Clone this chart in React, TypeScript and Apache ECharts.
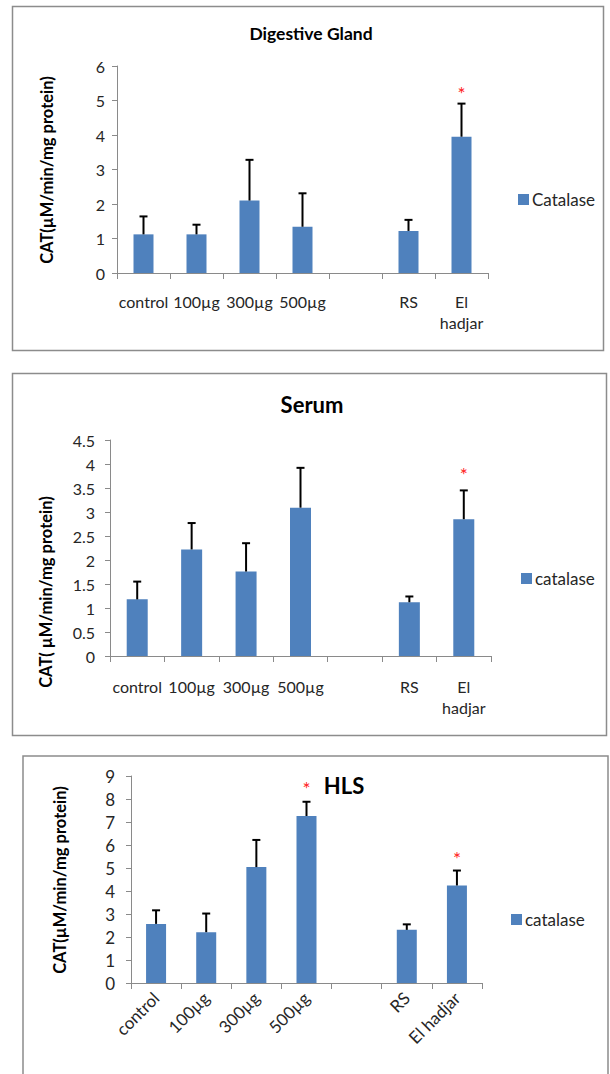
import React, { useEffect, useRef } from "react";
import * as echarts from "echarts";

const CATEGORIES = ["control", "100µg", "300µg", "500µg", "", "RS", "El hadjar"];

// Digestive Gland
const DG_MEAN = [1.12, 1.12, 2.1, 1.34, null, 1.22, 3.95];
const DG_SD = [0.52, 0.28, 1.18, 0.97, null, 0.32, 0.96];
const DG_STAR = [null, null, null, null, null, null, 5.28];
const DG_TICKS = { min: 0, max: 6, interval: 1 };

// Serum
const SE_MEAN = [1.18, 2.22, 1.76, 3.09, null, 1.12, 2.85];
const SE_SD = [0.37, 0.55, 0.59, 0.83, null, 0.12, 0.6];
const SE_STAR = [null, null, null, null, null, null, 3.85];
const SE_TICKS = { min: 0, max: 4.5, interval: 0.5 };

// HLS
const HL_MEAN = [2.57, 2.21, 5.04, 7.26, null, 2.31, 4.24];
const HL_SD = [0.59, 0.81, 1.18, 0.62, null, 0.24, 0.65];
const HL_STAR = [null, null, null, 8.57, null, null, 5.53];
const HL_TICKS = { min: 0, max: 9, interval: 1 };

const BAR = "#4F81BD";
const AXIS = "#8a8a8a";
const FONT = "Lato, 'Open Sans', sans-serif";

function errRender(params: any, api: any) {
  const i = api.value(0);
  const m = api.value(1);
  const s = api.value(2);
  const b = api.coord([i, m]);
  const t = api.coord([i, m + s]);
  const hw = 4;
  return {
    type: "group",
    children: [
      { type: "line", shape: { x1: b[0], y1: b[1], x2: t[0], y2: t[1] }, style: { stroke: "#000", lineWidth: 2 } },
      { type: "line", shape: { x1: t[0] - hw, y1: t[1], x2: t[0] + hw, y2: t[1] }, style: { stroke: "#000", lineWidth: 2 } },
    ],
  };
}

function starRender(params: any, api: any) {
  const p = api.coord([api.value(0), api.value(1)]);
  return {
    type: "text",
    x: p[0],
    y: p[1] + 3,
    style: { text: "*", fill: "#ff2020", font: `19px ${FONT}`, align: "center", verticalAlign: "middle" },
  };
}

export default function App() {
  const ref = useRef<HTMLDivElement>(null);
  useEffect(() => {
    if (!ref.current) return;
    const chart = echarts.init(ref.current, undefined, { renderer: "svg" });

    const panels = [
      { mean: DG_MEAN, sd: DG_SD, star: DG_STAR, ticks: DG_TICKS, name: "Catalase", grid: { left: 117, top: 66, width: 371, height: 207 }, barW: 20, rot: 0, labelMargin: 12, xMargin: 18, font: 16 },
      { mean: SE_MEAN, sd: SE_SD, star: SE_STAR, ticks: SE_TICKS, name: "catalase", grid: { left: 110, top: 440, width: 381, height: 216 }, barW: 21, rot: 0, labelMargin: 15, xMargin: 20, font: 16 },
      { mean: HL_MEAN, sd: HL_SD, star: HL_STAR, ticks: HL_TICKS, name: "catalase", grid: { left: 131, top: 776, width: 351, height: 207 }, barW: 20, rot: 45, labelMargin: 16, xMargin: 12, font: 17 },
    ];

    const grid = panels.map((p) => ({ ...p.grid, containLabel: false }));
    const xAxis = panels.map((p, k) => ({
      type: "category",
      gridIndex: k,
      data: CATEGORIES,
      boundaryGap: true,
      axisLine: { lineStyle: { color: AXIS, width: 1 } },
      axisTick: { show: true, interval: 0, length: 6, lineStyle: { color: AXIS } },
      axisLabel: {
        interval: 0,
        rotate: p.rot,
        margin: p.xMargin,
        color: "#262626",
        fontFamily: FONT,
        fontSize: p.font,
        lineHeight: 21,
        formatter: (v: string) => (p.rot === 0 ? v.replace(" ", "\n") : v),
      },
      splitLine: { show: false },
    }));
    const yAxis = panels.map((p, k) => ({
      type: "value",
      gridIndex: k,
      min: p.ticks.min,
      max: p.ticks.max,
      interval: p.ticks.interval,
      axisLine: { show: true, lineStyle: { color: AXIS, width: 1 } },
      axisTick: { show: true, length: 5, lineStyle: { color: AXIS } },
      axisLabel: { margin: p.labelMargin, color: "#262626", fontFamily: FONT, fontSize: p.font },
      splitLine: { show: false },
    }));

    const series: any[] = [];
    panels.forEach((p, k) => {
      series.push({
        type: "bar",
        name: p.name,
        xAxisIndex: k,
        yAxisIndex: k,
        barWidth: p.barW,
        itemStyle: { color: BAR },
        data: p.mean.map((v) => (v == null ? "-" : v)),
        z: 2,
      });
      series.push({
        type: "custom",
        name: "err" + k,
        xAxisIndex: k,
        yAxisIndex: k,
        renderItem: errRender,
        encode: { x: 0, y: [1, 2] },
        data: p.mean.map((v, i) => (v == null ? null : [i, v, p.sd[i]])).filter((d) => d),
        z: 3,
      });
      series.push({
        type: "custom",
        name: "star" + k,
        xAxisIndex: k,
        yAxisIndex: k,
        renderItem: starRender,
        encode: { x: 0, y: 1 },
        data: p.star.map((v, i) => (v == null ? null : [i, v])).filter((d) => d),
        z: 4,
      });
    });

    const legend = [
      { data: ["Catalase"], left: 513, top: 186 },
      { data: ["catalase"], left: 516, top: 565 },
      { data: ["catalase"], left: 506, top: 906 },
    ].map((l) => ({
      ...l,
      orient: "vertical",
      selectedMode: false,
      icon: "rect",
      itemWidth: 11,
      itemHeight: 11,
      itemGap: 4,
      textStyle: { fontFamily: FONT, fontSize: 17, color: "#262626", padding: [0, 0, 0, -2] },
    }));

    const border = { fill: "none", stroke: "#8c8c8c", lineWidth: 1.5 };
    const yName = (x: number, y: number, text: string) => ({
      type: "text",
      x,
      y,
      rotation: Math.PI / 2,
      style: { text, font: `bold 16.5px ${FONT}`, fill: "#000", align: "center", verticalAlign: "middle" },
    });
    const title = (x: number, y: number, text: string, size: number) => ({
      type: "text",
      x,
      y,
      style: { text, font: `bold ${size}px ${FONT}`, fill: "#000", align: "center", verticalAlign: "middle" },
    });

    chart.setOption({
      animation: false,
      backgroundColor: "#fff",
      grid,
      xAxis,
      yAxis,
      series,
      legend,
      graphic: [
        { type: "rect", shape: { x: 12.5, y: 6.5, width: 591, height: 344 }, style: border, silent: true },
        { type: "rect", shape: { x: 12.5, y: 373.5, width: 594, height: 362 }, style: border, silent: true },
        { type: "rect", shape: { x: 23, y: 756, width: 585, height: 340 }, style: border, silent: true },
        title(311, 33, "Digestive Gland", 17.5),
        title(312, 404, "Serum", 22),
        title(344, 785, "HLS", 22),
        yName(47, 170, "CAT(µM/min/mg protein)"),
        yName(46, 592, "CAT( µM/min/mg protein)"),
        yName(60, 880, "CAT(µM/min/mg protein)"),
      ],
    });
    return () => chart.dispose();
  }, []);
  return <div ref={ref} style={{ position: "absolute", left: 0, top: 0, width: 610, height: 1074 }} />;
}
